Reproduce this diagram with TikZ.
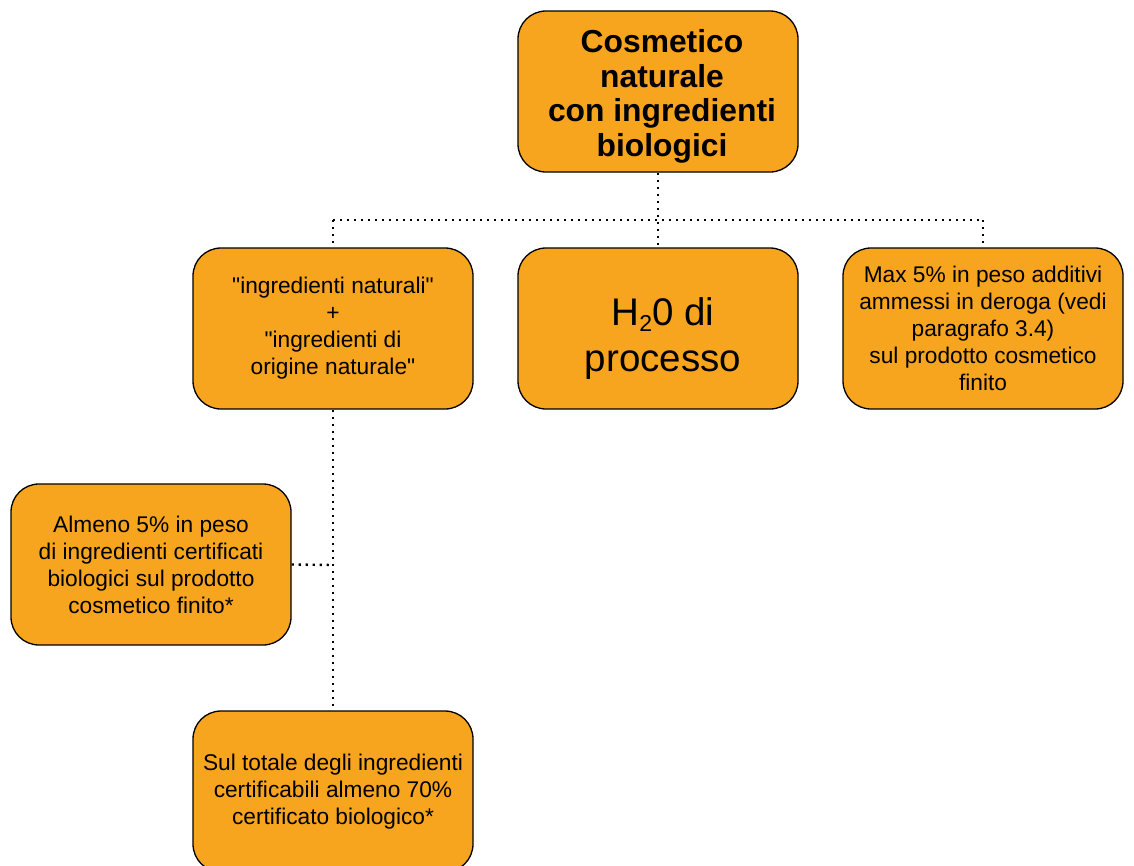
\documentclass[tikz,border=0pt]{standalone}
\usepackage{fontspec}
\setmainfont{Liberation Sans}[Ligatures=TeXOff]
\definecolor{boxfill}{HTML}{F7A51E}
\tikzset{
  box/.style={draw=black, line width=1.3pt, fill=boxfill, rounded corners=28pt,
    minimum width=280pt, minimum height=161pt, inner sep=0pt, align=center,
    font=\fontsize{22.7}{27}\selectfont},
  titlebox/.style={box, font=\fontsize{31.8}{34.7}\selectfont\bfseries},
  bigbox/.style={box, font=\fontsize{38.5}{46}\selectfont},
  dotline/.style={line width=2.4pt, dash pattern=on 2.2pt off 4.8pt}
}
\begin{document}
\begin{tikzpicture}[x=1pt, y=-1pt]
\clip (0,0) rectangle (1134,865);
\useasboundingbox (0,0) rectangle (1134,865);
\node[titlebox] (top) at (658,91.5) {\rule{0pt}{33pt}\hspace*{8pt}Cosmetico\\\hspace*{8pt}naturale\\\hspace*{8pt}con ingredienti\\\hspace*{8pt}biologici};
\node[box] (nat) at (333,328.5) {"ingredienti naturali"\\+\\"ingredienti di\\origine naturale"};
\node[bigbox] (h2o) at (658,328.5) {\rule{0pt}{48pt}\hspace*{10pt}H\raisebox{-6pt}{\fontsize{23}{23}\selectfont 2}0 di\\\hspace*{10pt}processo};
\node[box] (max) at (983,328.5) {Max 5\% in peso additivi\\ammessi in deroga (vedi\\paragrafo 3.4)\\sul prodotto cosmetico\\finito};
\node[box] (alm) at (151,564.5) {Almeno 5\% in peso\\di ingredienti certificati\\biologici sul prodotto\\cosmetico finito*};
\node[box] (sul) at (333,791.5) {Sul totale degli ingredienti\\certificabili almeno 70\%\\certificato biologico*};
\coordinate (jl) at (333,220);
\coordinate (jr) at (983,220);
\coordinate (jm) at (333,565);
\draw[dotline] (top.south) -- (h2o.north);
\draw[dotline] (jl) -- (jr);
\draw[dotline] (jl) -- (nat.north);
\draw[dotline] (jr) -- (max.north);
\draw[dotline] (nat.south) -- (sul.north);
\draw[dotline] (alm.east) -- (jm);
\end{tikzpicture}
\end{document}
